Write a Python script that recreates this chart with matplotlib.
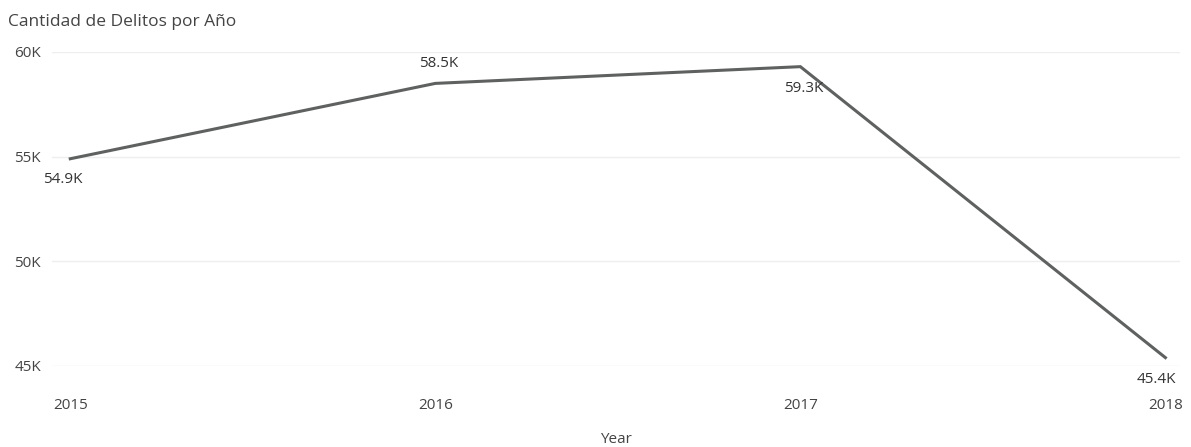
import matplotlib.pyplot as plt

years = [2015, 2016, 2017, 2018]
delitos = [54900, 58500, 59300, 45400]
etiquetas = ["54.9K", "58.5K", "59.3K", "45.4K"]
yticks = [45000, 50000, 55000, 60000]
ytick_labels = ["45K", "50K", "55K", "60K"]

# desplazamiento de cada etiqueta respecto al punto (en pixeles)
offsets = [(-7, -21), (3, 20), (3, -22), (-9, -22)]

plt.rcParams['font.family'] = ['Open Sans', 'DejaVu Sans']

fig = plt.figure(figsize=(11.91, 4.47), dpi=100)
ax = fig.add_axes([52 / 1191, 1 - 366 / 447, (1180 - 52) / 1191, (366 - 52) / 447])

ax.plot(years, delitos, color="#5f6160", linewidth=2.2, solid_joinstyle="miter")

for x, y, txt, (dx, dy) in zip(years, delitos, etiquetas, offsets):
    ax.annotate(txt, (x, y), xytext=(dx * 0.72, dy * 0.72), textcoords="offset points",
                ha="center", va="center", fontsize=11, color="#333333")

ax.set_ylim(45000, 60000)
ax.set_xlim(2014.95, 2018.04)
ax.set_yticks(yticks)
ax.set_yticklabels(ytick_labels)
ax.set_xticks(years)
ax.set_xticklabels([str(y) for y in years])
ax.grid(axis="y", color="#eeeeee", linewidth=1)
ax.set_axisbelow(True)
for s in ax.spines.values():
    s.set_visible(False)
ax.tick_params(length=0, labelsize=11, labelcolor="#444444")
ax.tick_params(axis="y", pad=8)
ax.tick_params(axis="x", pad=23)
ax.set_xlabel("Year", fontsize=11, color="#444444", labelpad=14)

fig.text(8 / 1191, 1 - 22 / 447, "Cantidad de Delitos por Año", fontsize=12.5,
         color="#444444", va="center", ha="left")

fig.savefig("out.png", dpi=100)
